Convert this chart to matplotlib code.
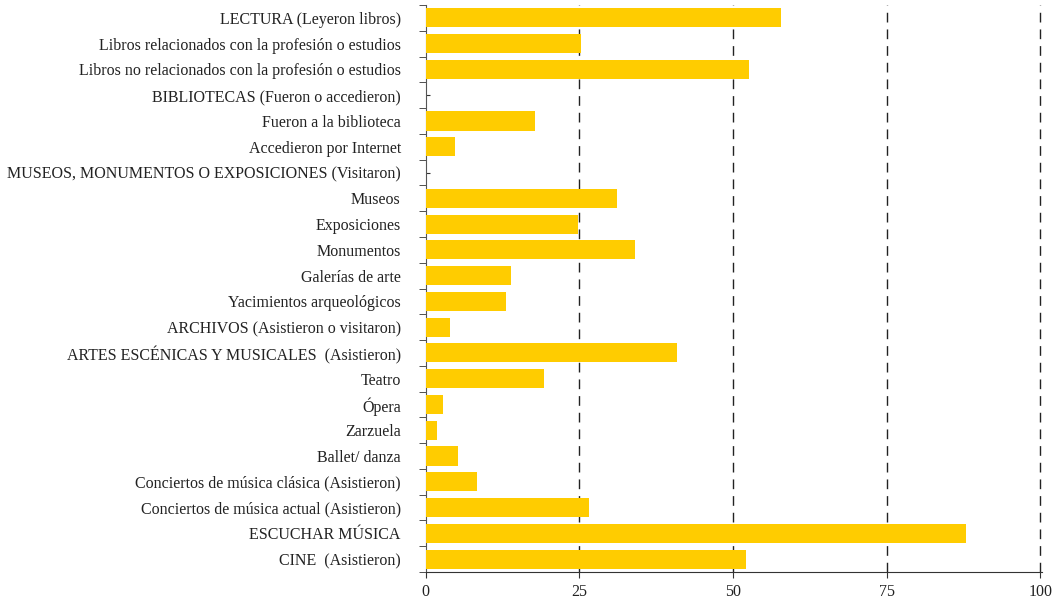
import numpy as np
import matplotlib.pyplot as plt

categorias = [
    "LECTURA (Leyeron libros)",
    "Libros relacionados con la profesión o estudios",
    "Libros no relacionados con la profesión o estudios",
    "BIBLIOTECAS (Fueron o accedieron)",
    "Fueron a la biblioteca",
    "Accedieron por Internet",
    "MUSEOS, MONUMENTOS O EXPOSICIONES (Visitaron)",
    "Museos",
    "Exposiciones",
    "Monumentos",
    "Galerías de arte",
    "Yacimientos arqueológicos",
    "ARCHIVOS (Asistieron o visitaron)",
    "ARTES ESCÉNICAS Y MUSICALES  (Asistieron)",
    "Teatro",
    "Ópera",
    "Zarzuela",
    "Ballet/ danza",
    "Conciertos de música clásica (Asistieron)",
    "Conciertos de música actual (Asistieron)",
    "ESCUCHAR MÚSICA",
    "CINE  (Asistieron)",
]
valores = [57.8, 25.2, 52.6, 0, 17.7, 4.7, 0, 31.2, 24.7, 34.1, 13.8, 13.0,
           3.9, 40.9, 19.2, 2.8, 1.9, 5.2, 8.4, 26.5, 88.0, 52.1]
xticks = [0, 25, 50, 75, 100]

plt.rcParams["font.family"] = ["Liberation Serif", "DejaVu Serif"]

fig = plt.figure(figsize=(10.54, 6.04), dpi=100)
ax = fig.add_axes([0.404, 0.053, 0.5846, 0.9387])

n = len(categorias)
y = np.arange(n)
ax.barh(y, valores, height=0.74, color="#FFCC00", zorder=3)

ax.set_ylim(n - 0.5, -0.5)
ax.set_xlim(0, 100.3)
ax.set_yticks(y)
ax.set_yticklabels(categorias, fontsize=11.5, color="#222222")
ax.set_yticks(np.arange(n + 1) - 0.5, minor=True)
ax.tick_params(axis="y", which="major", direction="in", length=3, pad=18, color="#333333")
ax.tick_params(axis="y", which="minor", direction="out", length=5, color="#333333")

ax.set_xticks(xticks)
ax.tick_params(axis="x", direction="out", length=4, labelsize=11.5, pad=5,
               color="#333333", labelcolor="#222222")

for v in xticks[1:]:
    ax.axvline(v, color="#222222", lw=1, dashes=(7, 5), zorder=1)

for s in ["top", "right"]:
    ax.spines[s].set_visible(False)
ax.spines["left"].set_color("#555555")
ax.spines["bottom"].set_color("#333333")

fig.savefig("out.png", dpi=100)
